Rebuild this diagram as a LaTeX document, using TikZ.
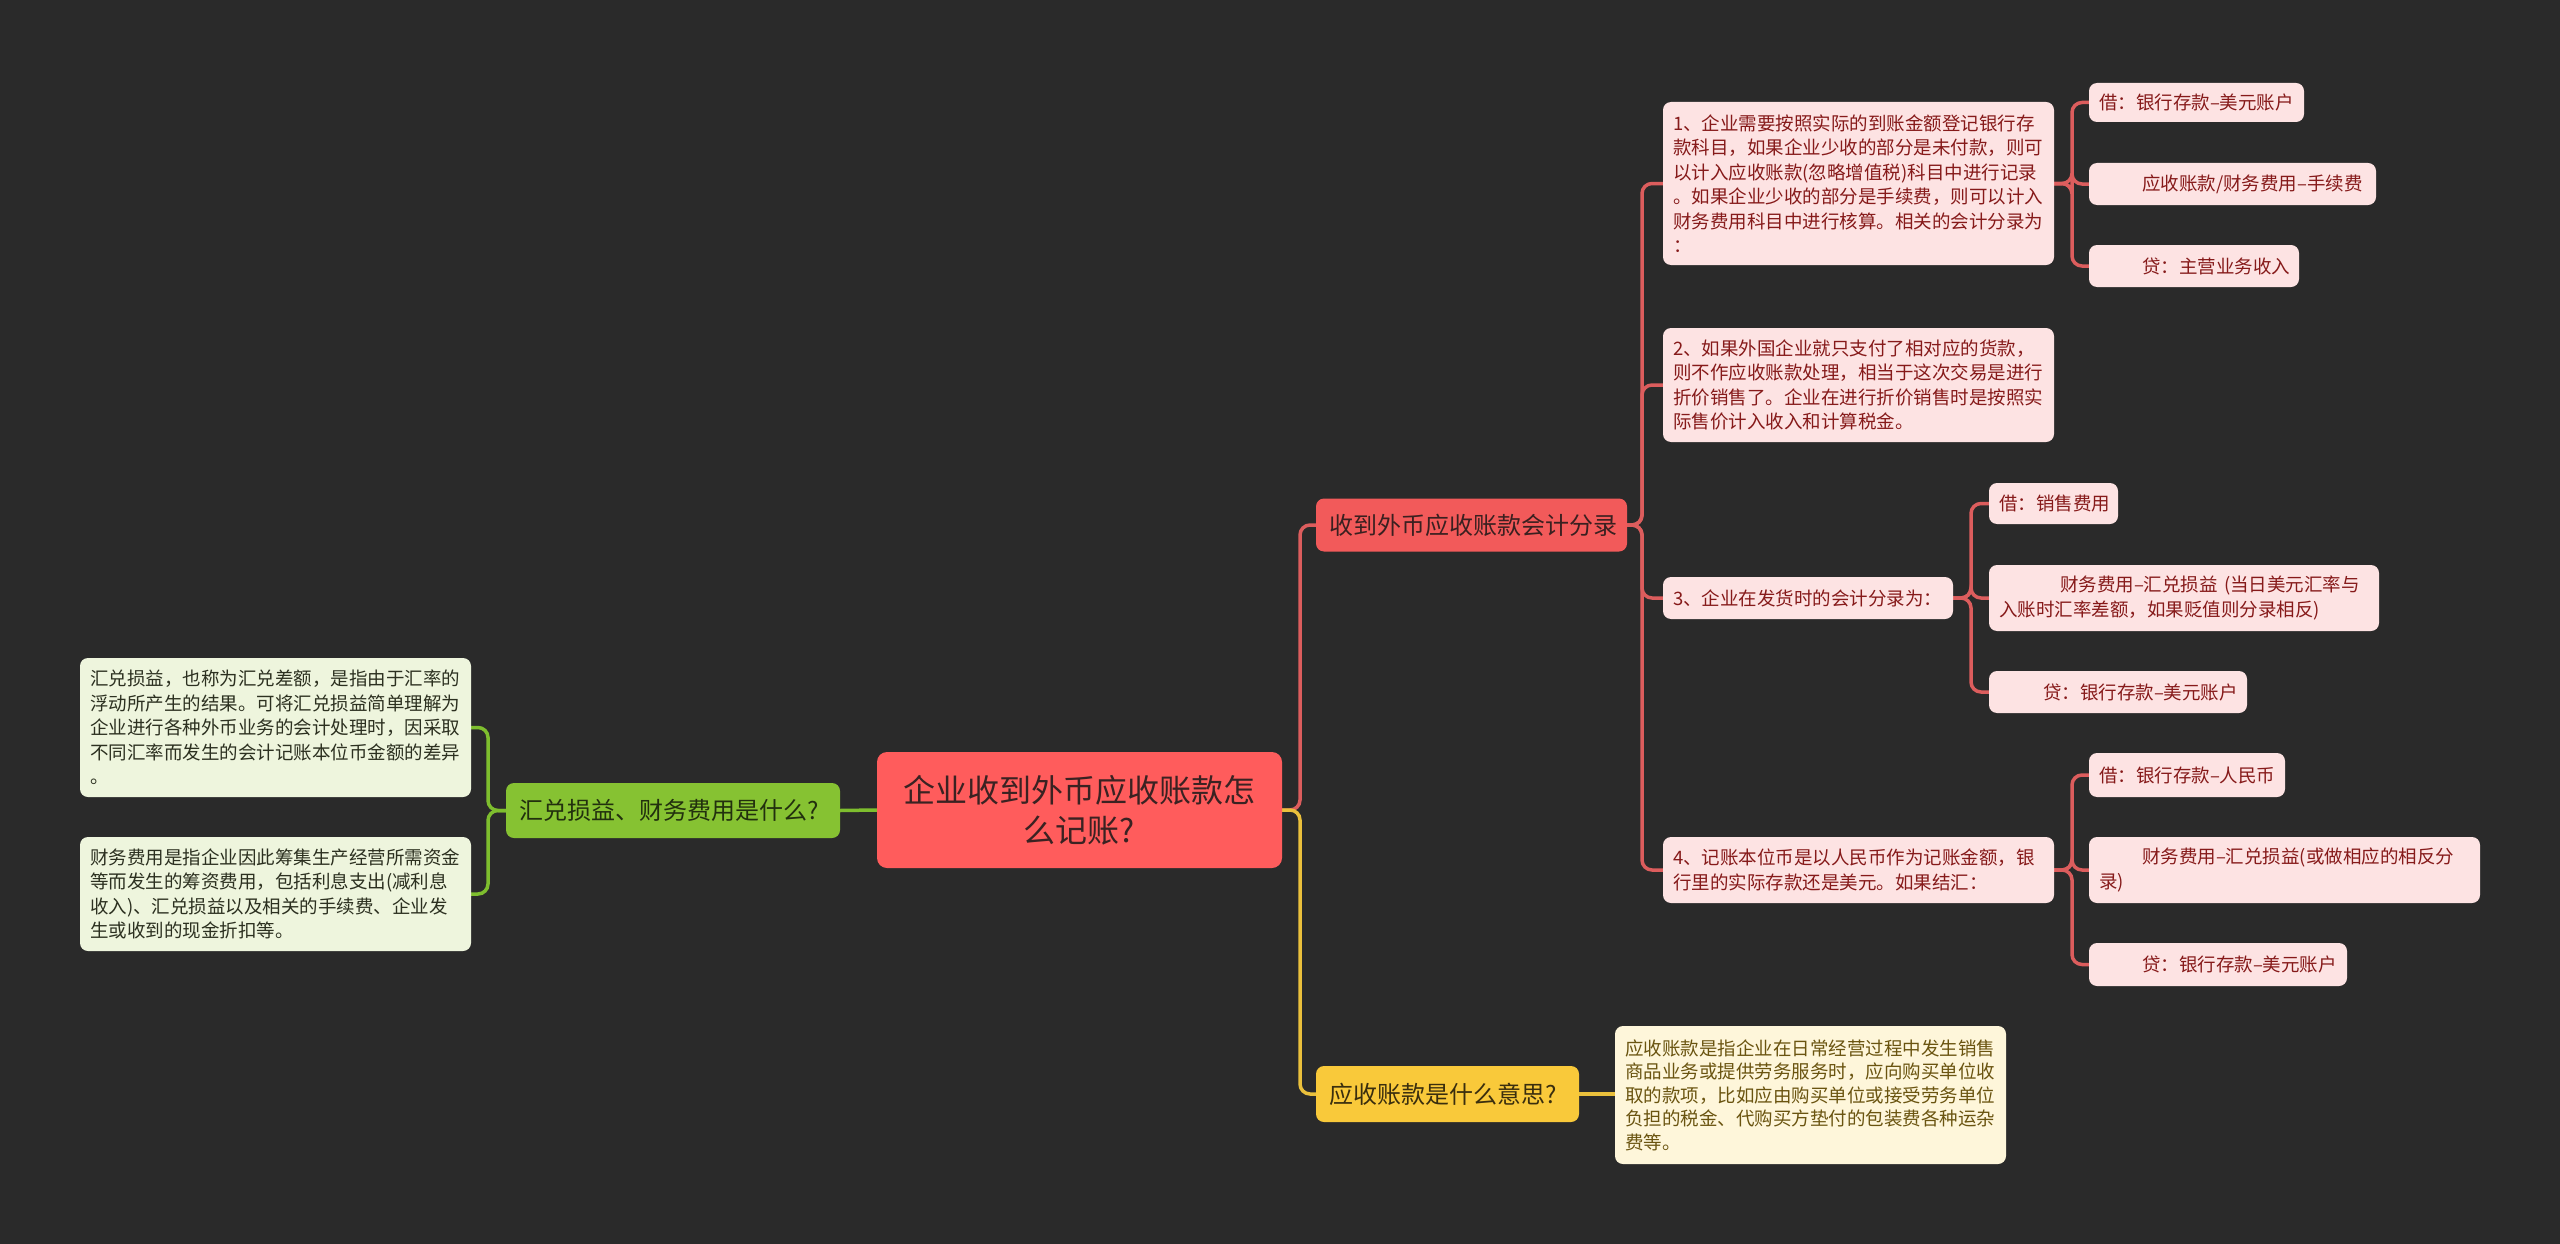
\documentclass[tikz,border=0pt]{standalone}
\usepackage{fontspec}
\setmainfont{Noto Sans CJK SC}
\usetikzlibrary{backgrounds}
\definecolor{bgc}{HTML}{2A2A2A}
\definecolor{rootfill}{HTML}{FF5C5C}
\definecolor{roottext}{HTML}{3A2222}
\definecolor{redfill}{HTML}{F25A5A}
\definecolor{redtext}{HTML}{3A2020}
\definecolor{greenfill}{HTML}{86C232}
\definecolor{greentext}{HTML}{22300E}
\definecolor{yellowfill}{HTML}{F9C93A}
\definecolor{yellowtext}{HTML}{3A2E0E}
\definecolor{pinkfill}{HTML}{FDE3E3}
\definecolor{pinktext}{HTML}{861A1A}
\definecolor{lgreenfill}{HTML}{EEF5DD}
\definecolor{lgreentext}{HTML}{2C3020}
\definecolor{creamfill}{HTML}{FEF6DA}
\definecolor{creamtext}{HTML}{6A5410}
\definecolor{lnred}{HTML}{DC5D5D}
\definecolor{lngreen}{HTML}{7EBE2E}
\definecolor{lnyellow}{HTML}{EAC03C}
\tikzset{
  box/.style={rectangle, rounded corners=8pt, outer sep=0pt, inner xsep=10pt, inner ysep=0pt, align=left},
  rootbox/.style={box, fill=rootfill, text=roottext, align=center, rounded corners=10pt,
     font=\fontsize{32pt}{40pt}\selectfont},
  lonebox/.style={box, font=\fontsize{24pt}{30pt}\selectfont, inner xsep=13pt},
  pinkbox/.style={box, fill=pinkfill, text=pinktext, font=\fontsize{18.5pt}{24.5pt}\selectfont},
  lgbox/.style={box, fill=lgreenfill, text=lgreentext, font=\fontsize{18.5pt}{24.5pt}\selectfont},
  crbox/.style={box, fill=creamfill, text=creamtext, font=\fontsize{18.5pt}{23.5pt}\selectfont},
  ln/.style={line width=3.5pt, rounded corners=10pt},
}
\begin{document}
\exhyphenpenalty=10000
\hyphenpenalty=10000
\begin{tikzpicture}[x=1pt,y=-1pt]
\useasboundingbox (0,0) rectangle (2560,1244);
% root
\node[rootbox, text width=385pt, minimum height=116pt] (root) at (1079.5,810) {企业收到外币应收账款怎\\么记账?};
% level 1
\node[lonebox, fill=redfill, text=redtext, text width=285pt, minimum height=53pt] (l1r) at (1471.5,525) {收到外币应收账款会计分录};
\node[lonebox, fill=yellowfill, text=yellowtext, text width=237pt, minimum height=56pt] (l1y) at (1447.5,1094) {应收账款是什么意思?};
\node[lonebox, fill=greenfill, text=greentext, text width=308pt, minimum height=55pt] (l1g) at (673,810.5) {汇兑损益、财务费用是什么?};
% left leaves
\node[lgbox, text width=371pt, minimum height=139pt] (g1) at (275.5,727.5) {汇兑损益，也称为汇兑差额，是指由于汇率的\\浮动所产生的结果。可将汇兑损益简单理解为\\企业进行各种外币业务的会计处理时，因采取\\不同汇率而发生的会计记账本位币金额的差异\\。};
\node[lgbox, text width=371pt, minimum height=114pt] (g2) at (275.5,894) {财务费用是指企业因此筹集生产经营所需资金\\等而发生的筹资费用，包括利息支出(减利息\\收入)、汇兑损益以及相关的手续费、企业发\\生或收到的现金折扣等。};
% yellow leaf
\node[crbox, text width=371pt, minimum height=138pt] (y1) at (1810.5,1095) {应收账款是指企业在日常经营过程中发生销售\\商品业务或提供劳务服务时，应向购买单位收\\取的款项，比如应由购买单位或接受劳务单位\\负担的税金、代购买方垫付的包装费各种运杂\\费等。};
% red children
\node[pinkbox, text width=371pt, minimum height=163pt] (c1) at (1858.5,183.5) {1、企业需要按照实际的到账金额登记银行存\\款科目，如果企业少收的部分是未付款，则可\\以计入应收账款(忽略增值税)科目中进行记录\\。如果企业少收的部分是手续费，则可以计入\\财务费用科目中进行核算。相关的会计分录为\\：};
\node[pinkbox, text width=371pt, minimum height=114pt] (c2) at (1858.5,385) {2、如果外国企业就只支付了相对应的货款，\\则不作应收账款处理，相当于这次交易是进行\\折价销售了。企业在进行折价销售时是按照实\\际售价计入收入和计算税金。};
\node[pinkbox, text width=270pt, minimum height=42pt] (c3) at (1808,598) {3、企业在发货时的会计分录为：};
\node[pinkbox, text width=371pt, minimum height=66pt] (c4) at (1858.5,870) {4、记账本位币是以人民币作为记账金额，银\\行里的实际存款还是美元。如果结汇：};
% grandchildren
\node[pinkbox, text width=195pt, minimum height=39pt] (c1a) at (2196.5,102.5) {\mbox{借：银行存款–美元账户}};
\node[pinkbox, text width=267pt, minimum height=42pt] (c1b) at (2232.5,184) {\hspace*{43pt}\mbox{应收账款/财务费用–手续费}};
\node[pinkbox, text width=190pt, minimum height=42pt] (c1c) at (2194,266) {\hspace*{43pt}\mbox{贷：主营业务收入}};
\node[pinkbox, text width=109pt, minimum height=41pt] (c3a) at (2053.5,503.5) {\mbox{借：销售费用}};
\node[pinkbox, text width=370pt, minimum height=66pt] (c3b) at (2184,598) {\hspace*{61pt}\mbox{财务费用–汇兑损益 (当日美元汇率与}\\\mbox{入账时汇率差额，如果贬值则分录相反)}};
\node[pinkbox, text width=238pt, minimum height=42pt] (c3c) at (2118,692) {\hspace*{44pt}\mbox{贷：银行存款–美元账户}};
\node[pinkbox, text width=176pt, minimum height=44pt] (c4a) at (2187,775) {\mbox{借：银行存款–人民币}};
\node[pinkbox, text width=371pt, minimum height=66pt] (c4b) at (2284.5,870) {\hspace*{43pt}\mbox{财务费用–汇兑损益(或做相应的相反分}\\录)};
\node[pinkbox, text width=238pt, minimum height=43pt] (c4c) at (2218,964.5) {\hspace*{43pt}\mbox{贷：银行存款–美元账户}};
% connectors
\begin{scope}[on background layer]
\fill[bgc] (0,0) rectangle (2560,1244);
\draw[ln, lngreen] (root.west) -- (l1g.east);
\draw[ln, lnred] (root.east) -- ++(18,0) |- (l1r.west);
\draw[ln, lnyellow] (root.east) -- ++(18,0) |- (l1y.west);
\draw[ln, lngreen] (l1g.west) -- ++(-18,0) |- (g1.east);
\draw[ln, lngreen] (l1g.west) -- ++(-18,0) |- (g2.east);
\draw[ln, lnyellow] (l1y.east) -- (y1.west |- l1y.east);
\foreach \c in {c1,c2,c3,c4}
  \draw[ln, lnred] (l1r.east) -- ++(15,0) |- (\c.west);
\foreach \c in {c1a,c1b,c1c}
  \draw[ln, lnred] (c1.east) -- ++(18,0) |- (\c.west);
\foreach \c in {c3a,c3b,c3c}
  \draw[ln, lnred] (c3.east) -- ++(18,0) |- (\c.west);
\foreach \c in {c4a,c4b,c4c}
  \draw[ln, lnred] (c4.east) -- ++(18,0) |- (\c.west);
\end{scope}
\end{tikzpicture}
\end{document}
